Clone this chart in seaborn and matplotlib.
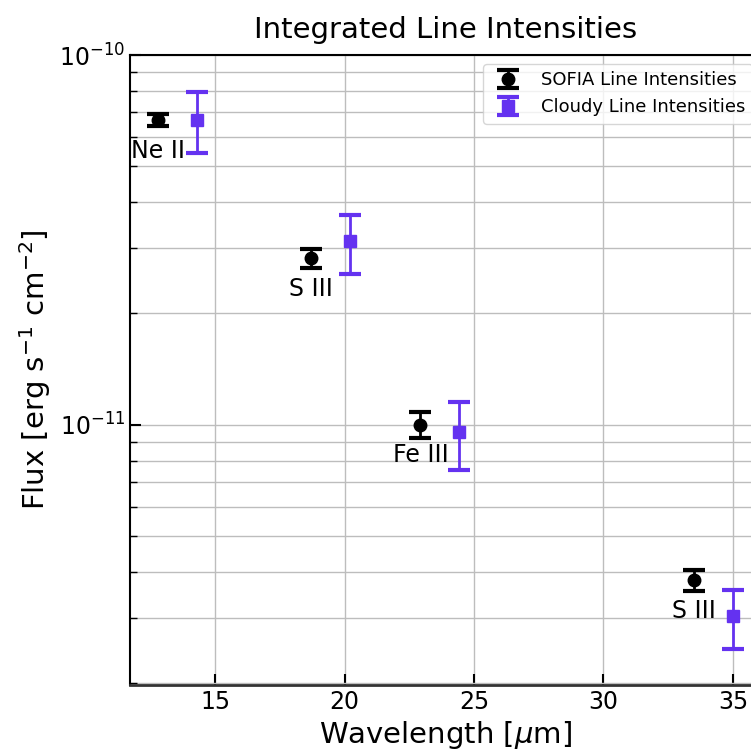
import numpy as np
import pandas as pd
import matplotlib
matplotlib.use("Agg")
import matplotlib.pyplot as plt
import seaborn as sns
from matplotlib.ticker import LogLocator, NullFormatter, FixedLocator

# ---- data ----
line_names = ["Ne II", "S III", "Fe III", "S III"]
sofia_wave = [12.81, 18.71, 22.93, 33.48]
sofia_flux = [6.67e-11, 2.82e-11, 1.00e-11, 3.79e-12]
sofia_err = [0.26e-11, 0.16e-11, 0.08e-11, 0.25e-12]
cloudy_wave = [14.30, 20.19, 24.41, 35.00]
cloudy_flux = [6.67e-11, 3.13e-11, 0.953e-11, 3.03e-12]
cloudy_err = [1.25e-11, 0.57e-11, 0.20e-11, 0.55e-12]
x_ticks = [15, 20, 25, 30, 35]

sofia = pd.DataFrame({"wave": sofia_wave, "flux": sofia_flux, "err": sofia_err, "name": line_names})
cloudy = pd.DataFrame({"wave": cloudy_wave, "flux": cloudy_flux, "err": cloudy_err})

sns.set_theme(style="white")
plt.rcParams["font.family"] = ["DejaVu Sans"]
plt.rcParams["mathtext.fontset"] = "dejavusans"
plt.rcParams["text.color"] = "black"
plt.rcParams["axes.labelcolor"] = "black"
plt.rcParams["xtick.color"] = "black"
plt.rcParams["ytick.color"] = "black"

W, H = 751, 756
fig = plt.figure(figsize=(W / 100, H / 100), dpi=100)
left, right, top, bottom = 130, 761.4, 55, 684.7
ax = fig.add_axes([left / W, (H - bottom) / H, (right - left) / W, (bottom - top) / H])

purple = "#6432F0"

ax.errorbar(sofia["wave"], sofia["flux"], yerr=sofia["err"], fmt="o", color="black",
            markersize=9, elinewidth=2, capsize=8, capthick=3, label="SOFIA Line Intensities", zorder=3)
ax.errorbar(cloudy["wave"], cloudy["flux"], yerr=cloudy["err"], fmt="s", color=purple,
            markersize=9, elinewidth=2, capsize=8, capthick=3, label="Cloudy Line Intensities", zorder=3)

for _, r in sofia.iterrows():
    ax.annotate(r["name"], (r["wave"], r["flux"]), xytext=(0, -22), textcoords="offset points",
                ha="center", va="center", fontsize=17, color="black", zorder=2)

ax.set_yscale("log")
ax.set_ylim(1.98e-12, 1e-10)
ax.set_xlim(11.71, 36.1)
ax.xaxis.set_major_locator(FixedLocator(x_ticks))
ax.yaxis.set_major_locator(FixedLocator([1e-11, 1e-10]))
ax.yaxis.set_minor_locator(LogLocator(base=10, subs=np.arange(2, 10), numticks=20))
ax.yaxis.set_minor_formatter(NullFormatter())

ax.grid(True, which="major", color="#bdbdbd", linewidth=1)
ax.grid(True, which="minor", axis="y", color="#bdbdbd", linewidth=1)
ax.set_axisbelow(True)

ax.tick_params(axis="both", which="major", direction="in", length=8, width=1.5,
               labelsize=17, colors="black", left=True, bottom=True)
ax.tick_params(axis="y", which="minor", direction="in", length=5, width=1, left=True)
for s in ax.spines.values():
    s.set_color("black")
    s.set_linewidth(1.5)
ax.spines["bottom"].set_color("#333333")
ax.spines["bottom"].set_linewidth(2)

ax.set_xlabel(r"Wavelength [$\mu$m]", fontsize=21, color="black")
ax.set_ylabel(r"Flux [erg s$^{-1}$ cm$^{-2}$]", fontsize=21, color="black")
ax.set_title("Integrated Line Intensities", fontsize=21, color="black", pad=12)

ax.legend(loc="upper right", fontsize=13, frameon=True, framealpha=0.8, edgecolor="#cccccc",
          fancybox=True, labelcolor="black")

fig.savefig("out.png", dpi=100)
